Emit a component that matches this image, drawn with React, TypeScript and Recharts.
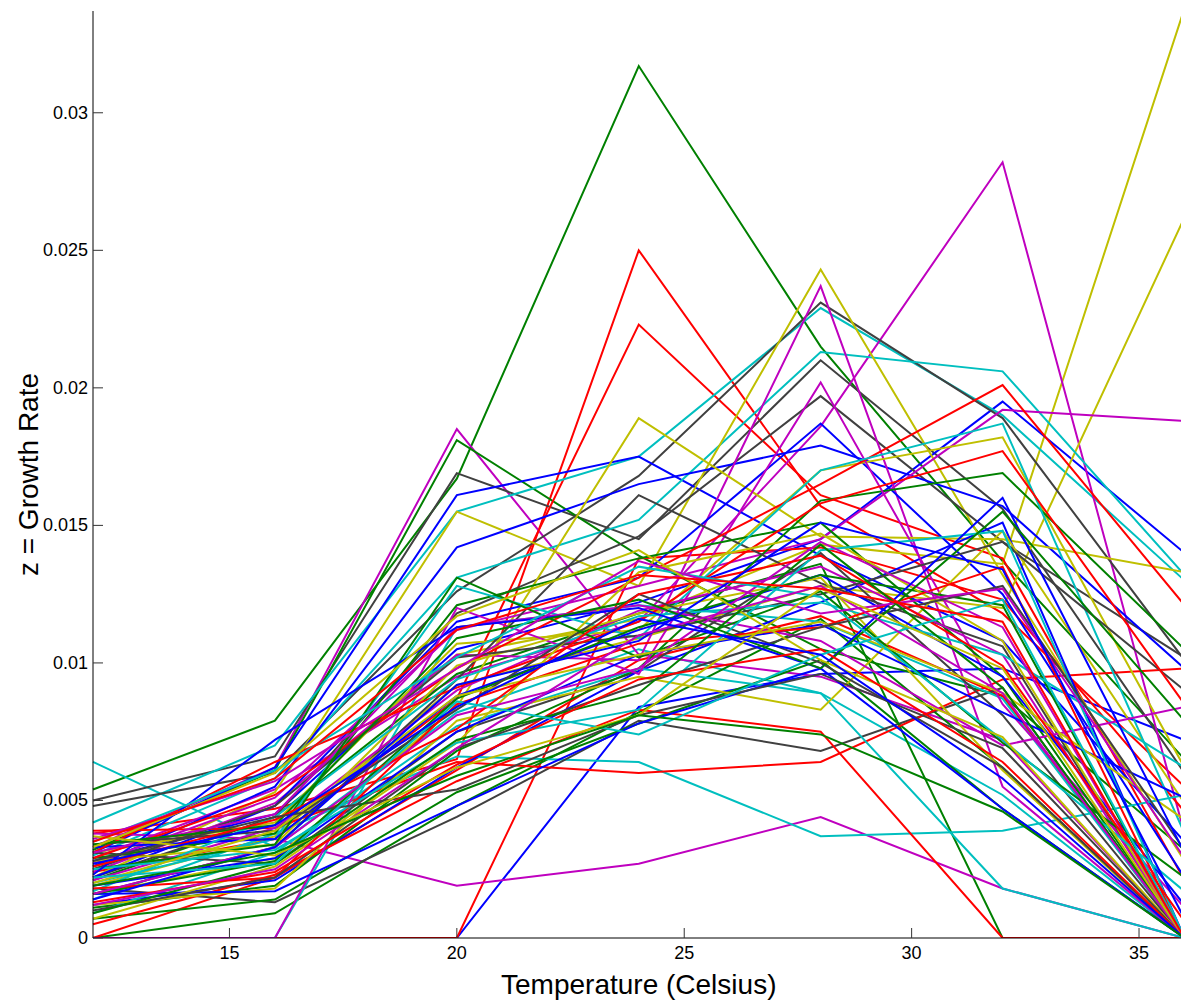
import { LineChart, Line, XAxis, YAxis } from "recharts"

// temperatures on the x axis
const temps = [12, 16, 20, 24, 28, 32, 36]

const xTicks = [15, 20, 25, 30, 35]
const yTicks = [0, 0.005, 0.01, 0.015, 0.02, 0.025, 0.03]

// growth rate curves, grouped by the colour they are drawn in
const blueRates = [
  [0, 0, 0, 0.0084, 0.0096, 0.0098, 0.0072],
  [0.0028, 0.0045, 0.0105, 0.0122, 0.0145, 0.0195, 0.014],
  [0.0031, 0.0062, 0.0161, 0.0175, 0.0139, 0.0108, 0.0035],
  [0.0026, 0.0055, 0.0142, 0.0165, 0.0179, 0.0157, 0.0098],
  [0.0022, 0.0048, 0.0115, 0.0131, 0.0187, 0.0125, 0.0022],
  [0.0012, 0.0021, 0.0062, 0.0097, 0.0122, 0.0151, 0],
  [0.0016, 0.0017, 0.0048, 0.0078, 0.0098, 0.0047, 0],
  [0.0033, 0.0036, 0.0088, 0.0112, 0.0132, 0.0095, 0.0012],
  [0.0019, 0.0029, 0.0075, 0.0103, 0.0114, 0.0082, 0.0051],
  [0.0023, 0.0072, 0.0113, 0.012, 0.0098, 0.016, 0.0031],
  [0.0014, 0.0033, 0.0092, 0.0108, 0.0151, 0.0134, 0.0007],
  [0.0027, 0.0041, 0.0084, 0.0116, 0.0103, 0.0058, 0],
]

const greenRates = [
  [0.0054, 0.0079, 0.0167, 0.0317, 0.0215, 0.0137, 0.0065],
  [0.0032, 0.0061, 0.0181, 0.0139, 0.0105, 0.0088, 0.0032],
  [0.0021, 0.0044, 0.0096, 0.0118, 0.0136, 0, 0],
  [0, 0.0009, 0.0048, 0.0082, 0.0116, 0.0062, 0],
  [0.0007, 0.0014, 0.0053, 0.0078, 0.0101, 0.0047, 0],
  [0.0011, 0.0019, 0.0068, 0.0098, 0.0159, 0.0169, 0.0105],
  [0.0029, 0.0038, 0.0121, 0.0138, 0.0151, 0.0095, 0],
  [0.0016, 0.0028, 0.0087, 0.0113, 0.0132, 0.0121, 0],
  [0.0025, 0.0034, 0.0131, 0.0102, 0.0126, 0.0071, 0.0022],
  [0.0034, 0.0041, 0.0109, 0.0123, 0.0098, 0.0155, 0.0079],
  [0.0009, 0.0027, 0.0072, 0.0089, 0.0143, 0.0091, 0],
  [0.0019, 0.0031, 0.0059, 0.0081, 0.0074, 0.0046, 0],
]

const redRates = [
  [0.0038, 0.0047, 0.0065, 0.025, 0.0157, 0.0118, 0.0055],
  [0.0024, 0.0036, 0.0087, 0.0223, 0.0161, 0.0138, 0.0021],
  [0, 0, 0, 0.0138, 0.0142, 0.0123, 0.0046],
  [0, 0.0022, 0.0061, 0.0101, 0.0117, 0.0088, 0],
  [0.0039, 0.004, 0.0064, 0.006, 0.0064, 0.0094, 0.0098],
  [0.0005, 0.0023, 0.0057, 0.0083, 0.0075, 0, 0],
  [0.0029, 0.0052, 0.0098, 0.0131, 0.0165, 0.0201, 0.0121],
  [0.0031, 0.0064, 0.0091, 0.0115, 0.0158, 0.0177, 0.0085],
  [0.0018, 0.0022, 0.0085, 0.0107, 0.0113, 0.0135, 0],
  [0.0026, 0.0043, 0.0076, 0.0125, 0.0139, 0.0099, 0.0006],
  [0.0013, 0.0024, 0.0063, 0.0094, 0.0105, 0.0064, 0],
  [0.0035, 0.0058, 0.0112, 0.0132, 0.0127, 0.0115, 0],
]

const cyanRates = [
  [0.0064, 0.0033, 0.0082, 0.0105, 0.0089, 0.0052, 0],
  [0.0042, 0.007, 0.0155, 0.0175, 0.0229, 0.019, 0.013],
  [0.003, 0.0058, 0.0131, 0.0152, 0.0213, 0.0206, 0.0132],
  [0.0014, 0.0038, 0.0066, 0.0064, 0.0037, 0.0039, 0.0052],
  [0, 0, 0.0113, 0.0121, 0.0115, 0.0087, 0],
  [0.0009, 0.0031, 0.0077, 0.0098, 0.0089, 0.0018, 0],
  [0.002, 0.0036, 0.0128, 0.0109, 0.017, 0.0187, 0.0038],
  [0.0017, 0.0044, 0.0094, 0.0117, 0.0122, 0.0103, 0.0062],
  [0.0025, 0.0032, 0.0071, 0.0083, 0.0141, 0.0148, 0],
  [0.0035, 0.0061, 0.0102, 0.0135, 0.0124, 0.0072, 0.0017],
  [0.0022, 0.0027, 0.0086, 0.0074, 0.0103, 0.0123, 0],
]

const magentaRates = [
  [0.0033, 0.0062, 0.0185, 0.0103, 0.0095, 0.0072, 0],
  [0.0029, 0.0054, 0.0095, 0.0115, 0.0186, 0.0282, 0.0038],
  [0.0038, 0.0036, 0.0019, 0.0027, 0.0044, 0.0018, 0],
  [0.0024, 0.0049, 0.0103, 0.0101, 0.0237, 0.0055, 0],
  [0.0027, 0.0051, 0.0112, 0.0128, 0.0145, 0.0192, 0.0188],
  [0, 0, 0.012, 0.0096, 0.0202, 0.0085, 0.0011],
  [0.0021, 0.004, 0.009, 0.0119, 0.0135, 0.0103, 0],
  [0.0031, 0.0045, 0.0113, 0.0121, 0.0108, 0.007, 0.0084],
  [0.0016, 0.0033, 0.0081, 0.0098, 0.0144, 0.0113, 0],
  [0.0036, 0.0057, 0.0098, 0.0137, 0.0118, 0.0127, 0.0029],
  [0.0012, 0.0025, 0.0069, 0.011, 0.0128, 0.0089, 0],
]

const yellowRates = [
  [0.0026, 0.0048, 0.0103, 0.0116, 0.0143, 0.0136, 0.0338],
  [0.0019, 0.0037, 0.0092, 0.0109, 0.0128, 0.012, 0.0262],
  [0.0022, 0.0053, 0.0155, 0.0128, 0.0243, 0.0132, 0.0028],
  [0.0016, 0.0029, 0.0084, 0.0189, 0.0146, 0.0145, 0.0133],
  [0.0031, 0.0042, 0.0107, 0.0112, 0.017, 0.0182, 0.0062],
  [0.0012, 0.0018, 0.0079, 0.0095, 0.0083, 0.0148, 0.0049],
  [0.0028, 0.0034, 0.0099, 0.0118, 0.0131, 0.0061, 0],
  [0.0007, 0.0026, 0.0071, 0.0133, 0.0147, 0.0108, 0],
  [0.002, 0.0039, 0.0088, 0.0103, 0.0115, 0.0089, 0.0043],
  [0.0033, 0.006, 0.0117, 0.0141, 0.0101, 0.0073, 0],
  [0.0037, 0.003, 0.0062, 0.0081, 0.0127, 0.0098, 0],
]

const grayRates = [
  [0.005, 0.0066, 0.0169, 0.0145, 0.021, 0.0156, 0.006],
  [0.0048, 0.006, 0.0126, 0.0168, 0.0231, 0.0189, 0.0101],
  [0.0022, 0.0044, 0.0118, 0.0146, 0.0197, 0.0144, 0.0102],
  [0.0018, 0.0013, 0.0044, 0.0079, 0.0068, 0.0091, 0],
  [0.0031, 0.0027, 0.0075, 0.0097, 0.014, 0.0081, 0],
  [0.0016, 0.0033, 0.0094, 0.0161, 0.0129, 0.0106, 0],
  [0.0025, 0.0048, 0.0102, 0.011, 0.0125, 0.0144, 0.009],
  [0.0034, 0.0039, 0.0083, 0.0125, 0.01, 0.0062, 0],
  [0.001, 0.0022, 0.0069, 0.0092, 0.0113, 0.0128, 0.0032],
  [0.0028, 0.0044, 0.0054, 0.0081, 0.0096, 0.0069, 0],
]

// matlab's old colour order: b g r c m y k
const groups = [
  { rates: blueRates, color: "#0000ff" },
  { rates: greenRates, color: "#008000" },
  { rates: redRates, color: "#ff0000" },
  { rates: cyanRates, color: "#00bfbf" },
  { rates: magentaRates, color: "#bf00bf" },
  { rates: yellowRates, color: "#bfbf00" },
  { rates: grayRates, color: "#404040" },
]

// interleave groups so colours cycle like a matlab plot call
const series: { values: number[]; color: string }[] = []
for (let i = 0; i < 12; i++) {
  groups.forEach((g) => {
    if (g.rates[i]) series.push({ values: g.rates[i], color: g.color })
  })
}

const data = temps.map((t, j) => {
  const row: Record<string, number> = { temp: t }
  series.forEach((s, i) => {
    row[`s${i}`] = s.values[j]
  })
  return row
})

const FONT = "'Liberation Sans', Arial, Helvetica, sans-serif"
const TICK = 10

const BottomTick = (props: any) => {
  const { x, y, payload } = props
  return (
    <g>
      <line x1={x} x2={x} y1={y} y2={y - TICK} stroke="#333" strokeWidth={1} />
      <text x={x} y={y + 15} textAnchor="middle" dominantBaseline="central" fontSize={18} fill="#000">
        {payload.value}
      </text>
    </g>
  )
}

const TopTick = (props: any) => {
  const { x, y } = props
  return <line x1={x} x2={x} y1={y} y2={y + TICK} stroke="#333" strokeWidth={1} />
}

const LeftTick = (props: any) => {
  const { x, y, payload } = props
  return (
    <g>
      <line x1={x} x2={x + TICK} y1={y} y2={y} stroke="#333" strokeWidth={1} />
      <text x={x - 5} y={y} textAnchor="end" dominantBaseline="central" fontSize={18} fill="#000">
        {String(payload.value)}
      </text>
    </g>
  )
}

const RightTick = (props: any) => {
  const { x, y } = props
  return <line x1={x} x2={x - TICK} y1={y} y2={y} stroke="#333" strokeWidth={1} />
}

const YLabel = (props: any) => {
  const { viewBox } = props
  const cx = 28
  const cy = viewBox.y + viewBox.height / 2
  return (
    <text
      x={cx}
      y={cy}
      transform={`rotate(-90, ${cx}, ${cy})`}
      textAnchor="middle"
      dominantBaseline="central"
      fontSize={28}
      fill="#000"
    >
      z = Growth Rate
    </text>
  )
}

export default function App() {
  return (
    <div
      style={{
        position: "absolute",
        left: 0,
        top: 0,
        width: 1181,
        height: 1002,
        overflow: "hidden",
        background: "#fff",
        fontFamily: FONT,
      }}
    >
      <LineChart
        width={1200}
        height={1002}
        data={data}
        margin={{ top: 11, right: 15.5, bottom: 0, left: 0 }}
        style={{ fontFamily: FONT }}
      >
        <XAxis
          xAxisId="bottom"
          dataKey="temp"
          type="number"
          domain={[12, 36]}
          ticks={xTicks}
          height={64}
          tickSize={0}
          tickMargin={0}
          tickLine={false}
          tick={<BottomTick />}
          axisLine={{ stroke: "#000", strokeWidth: 1 }}
          label={{ value: "Temperature (Celsius)", position: "insideBottom", offset: 8, fontSize: 28, fill: "#000" }}
        />
        <XAxis
          xAxisId="top"
          orientation="top"
          dataKey="temp"
          type="number"
          domain={[12, 36]}
          ticks={xTicks}
          height={0}
          tickSize={0}
          tickMargin={0}
          tickLine={false}
          tick={<TopTick />}
          axisLine={{ stroke: "#000", strokeWidth: 1 }}
        />
        <YAxis
          yAxisId="left"
          type="number"
          domain={[0, 0.0337]}
          allowDataOverflow
          ticks={yTicks}
          width={93}
          tickSize={0}
          tickMargin={0}
          tickLine={false}
          tick={<LeftTick />}
          axisLine={{ stroke: "#000", strokeWidth: 1 }}
          label={<YLabel />}
        />
        <YAxis
          yAxisId="right"
          orientation="right"
          type="number"
          domain={[0, 0.0337]}
          allowDataOverflow
          ticks={yTicks}
          width={0}
          tickSize={0}
          tickMargin={0}
          tickLine={false}
          tick={<RightTick />}
          axisLine={{ stroke: "#000", strokeWidth: 1 }}
        />
        {series.map((s, i) => (
          <Line
            key={`s${i}`}
            xAxisId="bottom"
            yAxisId="left"
            type="linear"
            dataKey={`s${i}`}
            stroke={s.color}
            strokeWidth={2}
            dot={false}
            activeDot={false}
            isAnimationActive={false}
          />
        ))}
      </LineChart>
    </div>
  )
}
